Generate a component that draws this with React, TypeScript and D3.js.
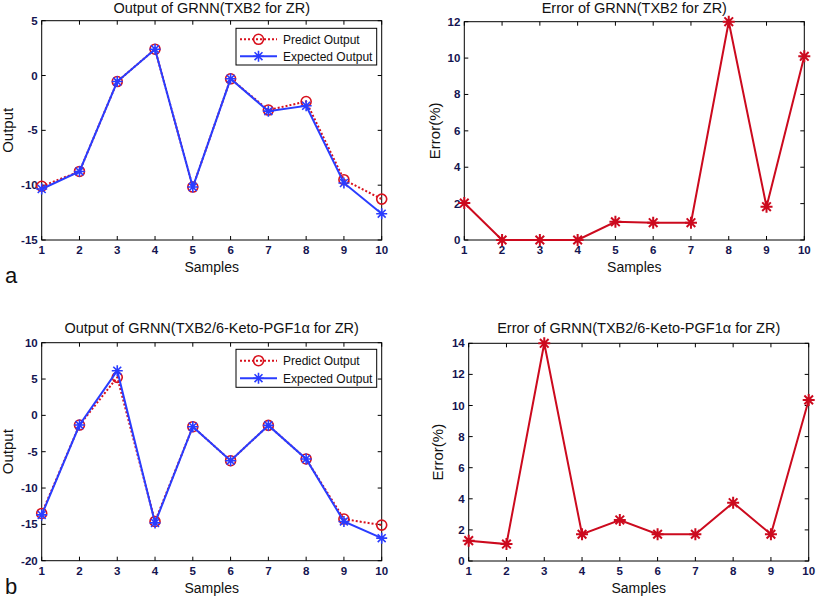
import React from 'react';
import * as d3 from 'd3';

const samples = [1, 2, 3, 4, 5, 6, 7, 8, 9, 10];
const predictA = [-10.1, -8.75, -0.55, 2.4, -10.17, -0.3, -3.15, -2.37, -9.5, -11.27];
const expectedA = [-10.35, -8.75, -0.55, 2.4, -10.17, -0.3, -3.25, -2.76, -9.8, -12.6];
const errorA = [2.03, 0, 0, 0, 1.0, 0.95, 0.95, 12.0, 1.83, 10.1];
const predictB = [-13.5, -1.33, 5.23, -14.6, -1.56, -6.24, -1.38, -6.0, -14.27, -15.1];
const expectedB = [-13.7, -1.33, 6.15, -14.8, -1.56, -6.24, -1.38, -6.0, -14.6, -16.9];
const errorB = [1.31, 1.09, 14.0, 1.72, 2.64, 1.72, 1.72, 3.75, 1.72, 10.36];

const yTicksOutA = [-15, -10, -5, 0, 5];
const yTicksErrA = [0, 2, 4, 6, 8, 10, 12];
const yTicksOutB = [-20, -15, -10, -5, 0, 5, 10];
const yTicksErrB = [0, 2, 4, 6, 8, 10, 12, 14];

const legendLabels = ['Predict Output', 'Expected Output'];

const RED = '#d8101c';
const BLUE = '#2a3cff';
const ERR = '#cc0a1e';
const TICKC = '#141450';
const FONT = 'Liberation Sans, Arial, sans-serif';

type Series = { values: number[]; color: string; dash?: string; marker: 'circle' | 'star'; width: number; ms: number; mw: number };

function Marker({ x, y, kind, color, size, w }: { x: number; y: number; kind: string; color: string; size: number; w: number }) {
  if (kind === 'circle') {
    return <circle cx={x} cy={y} r={size} fill="none" stroke={color} strokeWidth={w} />;
  }
  const s = size;
  const d2 = s * 0.72;
  const d = `M${x - s},${y}L${x + s},${y}M${x},${y - s}L${x},${y + s}M${x - d2},${y - d2}L${x + d2},${y + d2}M${x - d2},${y + d2}L${x + d2},${y - d2}`;
  return <path d={d} stroke={color} strokeWidth={w} fill="none" />;
}

function Panel(props: {
  x0: number; x1: number; y0: number; y1: number; domain: [number, number]; yTicks: number[];
  title: string; titleY: number; ylabel: string; ylabelX: number; xlabelY: number; tickLabelY: number;
  series: Series[]; legend?: { x0: number; y0: number; x1: number; y1: number };
}) {
  const { x0, x1, y0, y1, domain, yTicks, title, titleY, ylabel, ylabelX, xlabelY, tickLabelY, series, legend } = props;
  const xs = d3.scaleLinear().domain([1, 10]).range([x0, x1]);
  const ys = d3.scaleLinear().domain(domain).range([y1, y0]);
  const line = d3.line<number>().x((_, i) => xs(samples[i])).y((v) => ys(v));
  const tl = 4;
  return (
    <g>
      <rect x={x0} y={y0} width={x1 - x0} height={y1 - y0} fill="#fff" stroke="#000" strokeWidth={1} />
      {samples.map((s) => (
        <g key={'xt' + s}>
          <line x1={xs(s)} x2={xs(s)} y1={y1} y2={y1 - tl} stroke="#000" />
          <line x1={xs(s)} x2={xs(s)} y1={y0} y2={y0 + tl} stroke="#000" />
          <text x={xs(s)} y={tickLabelY} textAnchor="middle" fontSize={11.5} fontWeight="bold" fill={TICKC} fontFamily={FONT}>{s}</text>
        </g>
      ))}
      {yTicks.map((t) => (
        <g key={'yt' + t}>
          <line x1={x0} x2={x0 + tl} y1={ys(t)} y2={ys(t)} stroke="#000" />
          <line x1={x1} x2={x1 - tl} y1={ys(t)} y2={ys(t)} stroke="#000" />
          <text x={x0 - 4} y={ys(t) + 4} textAnchor="end" fontSize={11.5} fontWeight="bold" fill={TICKC} fontFamily={FONT}>{t}</text>
        </g>
      ))}
      <text x={(x0 + x1) / 2} y={titleY} textAnchor="middle" fontSize={14.5} fill="#111" fontFamily={FONT}>{title}</text>
      <text x={(x0 + x1) / 2} y={xlabelY} textAnchor="middle" fontSize={14} fill="#111" fontFamily={FONT}>Samples</text>
      <text transform={`translate(${ylabelX},${(y0 + y1) / 2}) rotate(-90)`} textAnchor="middle" fontSize={15} fill="#111" fontFamily={FONT}>{ylabel}</text>
      {series.map((sr, k) => (
        <g key={'s' + k}>
          <path d={line(sr.values) || ''} fill="none" stroke={sr.color} strokeWidth={sr.width} strokeDasharray={sr.dash} />
          {sr.values.map((v, i) => (
            <Marker key={i} x={xs(samples[i])} y={ys(v)} kind={sr.marker} color={sr.color} size={sr.ms} w={sr.mw} />
          ))}
        </g>
      ))}
      {legend && (
        <g>
          <rect x={legend.x0} y={legend.y0} width={legend.x1 - legend.x0} height={legend.y1 - legend.y0} fill="#fff" stroke="#000" strokeWidth={1} />
          {series.map((sr, k) => {
            const ly = legend.y0 + (legend.y1 - legend.y0) * (k === 0 ? 0.3 : 0.76);
            const lx0 = legend.x0 + 4;
            const lx1 = legend.x0 + 41;
            return (
              <g key={'lg' + k}>
                <line x1={lx0} x2={lx1} y1={ly} y2={ly} stroke={sr.color} strokeWidth={sr.width} strokeDasharray={sr.dash} />
                <Marker x={(lx0 + lx1) / 2} y={ly} kind={sr.marker} color={sr.color} size={sr.ms} w={sr.mw} />
                <text x={legend.x0 + 47} y={ly + 4.5} fontSize={12} fill="#111" fontFamily={FONT}>{legendLabels[k]}</text>
              </g>
            );
          })}
        </g>
      )}
    </g>
  );
}

export default function App() {
  const outSeries = (p: number[], e: number[]): Series[] => [
    { values: p, color: RED, dash: '2,2', marker: 'circle', width: 2, ms: 5, mw: 1.6 },
    { values: e, color: BLUE, marker: 'star', width: 2, ms: 5.5, mw: 1.6 },
  ];
  const errSeries = (v: number[]): Series[] => [
    { values: v, color: ERR, marker: 'star', width: 2, ms: 6, mw: 2 },
  ];
  return (
    <svg width={817} height={605} style={{ position: 'absolute', left: 0, top: 0, background: '#fff' }}>
      <rect width={817} height={605} fill="#fff" />
      <Panel x0={41.7} x1={381.7} y0={20.7} y1={240} domain={[-15, 5]} yTicks={yTicksOutA}
        title="Output of GRNN(TXB2 for ZR)" titleY={13} ylabel="Output" ylabelX={13} xlabelY={272} tickLabelY={254}
        series={outSeries(predictA, expectedA)} legend={{ x0: 236, y0: 28.3, x1: 376.7, y1: 65 }} />
      <Panel x0={464.3} x1={804.3} y0={21.7} y1={240} domain={[0, 12]} yTicks={yTicksErrA}
        title="Error of GRNN(TXB2 for ZR)" titleY={13} ylabel="Error(%)" ylabelX={440} xlabelY={272} tickLabelY={254}
        series={errSeries(errorA)} />
      <Panel x0={41.7} x1={381.7} y0={342.7} y1={560.7} domain={[-20, 10]} yTicks={yTicksOutB}
        title="Output of GRNN(TXB2/6-Keto-PGF1α for ZR)" titleY={333} ylabel="Output" ylabelX={13} xlabelY={593} tickLabelY={575}
        series={outSeries(predictB, expectedB)} legend={{ x0: 236, y0: 349.3, x1: 376.7, y1: 387.3 }} />
      <Panel x0={468.7} x1={808.7} y0={343.3} y1={561} domain={[0, 14]} yTicks={yTicksErrB}
        title="Error of GRNN(TXB2/6-Keto-PGF1α for ZR)" titleY={333} ylabel="Error(%)" ylabelX={443} xlabelY={593} tickLabelY={575}
        series={errSeries(errorB)} />
      <text x={5} y={283} fontSize={22} fill="#111" fontFamily={FONT}>a</text>
      <text x={5} y={594} fontSize={22} fill="#111" fontFamily={FONT}>b</text>
    </svg>
  );
}
